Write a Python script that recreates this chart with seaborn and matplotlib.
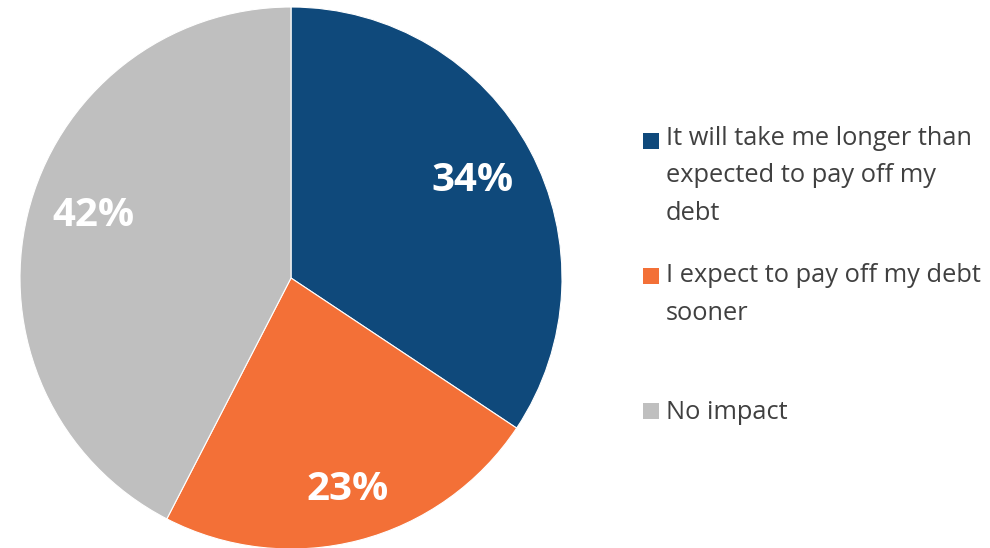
import matplotlib
matplotlib.use("Agg")
import matplotlib.pyplot as plt
import seaborn as sns
import numpy as np
from matplotlib.patches import Rectangle

categories = ["It will take me longer than\nexpected to pay off my\ndebt",
              "I expect to pay off my debt\nsooner",
              "No impact"]
values = [34, 23, 42]
colors = ["#0F497B", "#F37037", "#BFBFBF"]

sns.set_theme(style="white")
plt.rcParams['font.family'] = ['Open Sans', 'DejaVu Sans']

W, H = 990, 548
fig = plt.figure(figsize=(W / 100, H / 100), dpi=100)
fig.patch.set_facecolor("white")

cx, cy, r = 291, 278, 271
ax = fig.add_axes([(cx - r) / W, (H - cy - r) / H, 2 * r / W, 2 * r / H])
wedges, _ = ax.pie(values, colors=colors, startangle=90, counterclock=False,
                   radius=1, wedgeprops=dict(edgecolor="white", linewidth=0.8))
ax.set_xlim(-1, 1)
ax.set_ylim(-1, 1)
ax.set_aspect("equal")
ax.axis("off")

dists = [0.76, 0.81, 0.765]
ang_off = [0, 0.5, -4]
for w, v, d, o in zip(wedges, values, dists, ang_off):
    th = np.deg2rad((w.theta1 + w.theta2) / 2 + o)
    ax.text(d * np.cos(th), d * np.sin(th), f"{v}%", ha="center", va="center",
            color="white", fontsize=29, fontweight="bold")

# legend (manual layout, markers aligned with first line)
first_baselines = [149, 284, 419]
line_step = 35.5
for w, lab, yb in zip(wedges, categories, first_baselines):
    n = lab.count("\n")
    fig.patches.append(Rectangle((643 / W, (H - yb) / H), 16 / W, 16 / H,
                                 transform=fig.transFigure,
                                 facecolor=w.get_facecolor(), edgecolor="none"))
    fig.text(666 / W, (H - yb - n * line_step) / H, lab, ha="left", va="baseline",
             fontsize=18.3, color="#404040", linespacing=1.66)

fig.savefig("out.png", dpi=100, facecolor="white")
